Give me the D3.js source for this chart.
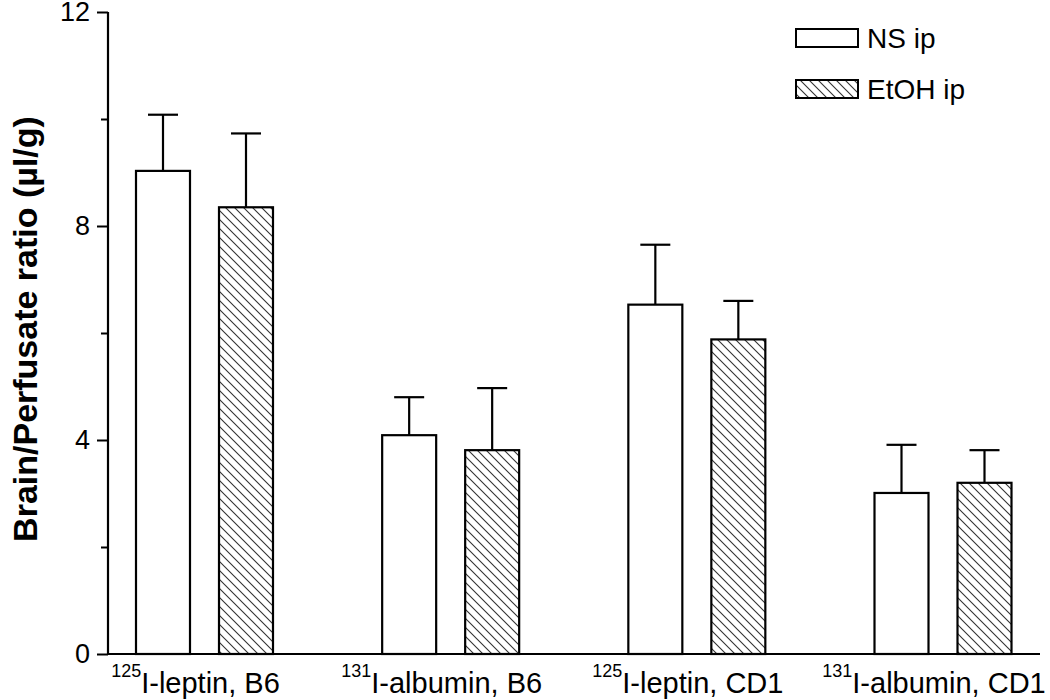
<!DOCTYPE html>
<html><head><meta charset="utf-8">
<script src="https://cdn.jsdelivr.net/npm/d3@7"></script>
<style>body{margin:0;background:#fff}svg{display:block}text{font-family:"Liberation Sans",Arial,sans-serif}</style>
</head><body>
<script>
const categories = ["125|I-leptin, B6", "131|I-albumin, B6", "125|I-leptin, CD1", "131|I-albumin, CD1"];
const seriesNames = ["NS ip", "EtOH ip"];
const nsValues = [9.03, 4.09, 6.53, 3.01];
const nsErrors = [1.05, 0.71, 1.12, 0.9];
const etohValues = [8.35, 3.81, 5.88, 3.2];
const etohErrors = [1.38, 1.16, 0.72, 0.61];
const yTicks = [0, 4, 8, 12];
const yMinorTicks = [2, 6, 10];

const W = 1050, H = 700;
const svg = d3.select("body").append("svg").attr("width", W).attr("height", H);
const defs = svg.append("defs");
const pat = defs.append("pattern").attr("id", "hatch").attr("patternUnits", "userSpaceOnUse")
  .attr("width", 9).attr("height", 9);
pat.append("rect").attr("width", 9).attr("height", 9).attr("fill", "#fff");
pat.append("path").attr("d", "M-1,-1 L10,10 M-10,-1 L1,10 M8,-1 L19,10").attr("stroke", "#333").attr("stroke-width", 1.1);

const axisX0 = 108, axisX1 = 1040;
const y = d3.scaleLinear().domain([0, 12]).range([654, 12]);
const x = d3.scalePoint().domain(categories).range([204.5, 943]);
const barW = 54, gap = 29;
const sub = d3.scaleOrdinal().domain(seriesNames).range([-(gap/2 + barW/2), gap/2 + barW/2]);

const data = [];
categories.forEach((c, i) => {
  data.push({cat: c, s: "NS ip", v: nsValues[i], e: nsErrors[i]});
  data.push({cat: c, s: "EtOH ip", v: etohValues[i], e: etohErrors[i]});
});

// error bars (upward only)
const eb = svg.append("g").attr("stroke", "#000").attr("stroke-width", 2.2);
data.forEach(d => {
  const cx = x(d.cat) + sub(d.s);
  eb.append("line").attr("x1", cx).attr("x2", cx).attr("y1", y(d.v)).attr("y2", y(d.v + d.e));
  eb.append("line").attr("x1", cx - 15).attr("x2", cx + 15).attr("y1", y(d.v + d.e)).attr("y2", y(d.v + d.e));
});

// bars
svg.append("g").selectAll("rect").data(data).join("rect")
  .attr("x", d => x(d.cat) + sub(d.s) - barW/2)
  .attr("y", d => y(d.v))
  .attr("width", barW)
  .attr("height", d => y(0) - y(d.v))
  .attr("fill", d => d.s === "NS ip" ? "#fff" : "url(#hatch)")
  .attr("stroke", "#000").attr("stroke-width", 2.2);

// y axis
const yAxis = svg.append("g").attr("transform", `translate(${axisX0},0)`)
  .call(d3.axisLeft(y).tickValues(yTicks).tickSize(11).tickPadding(7).tickFormat(d3.format("d")));
yAxis.select(".domain").attr("stroke-width", 2.2).attr("d", `M0,${y(12)}V${y(0)}`);
yAxis.selectAll(".tick line").attr("stroke-width", 2);
yAxis.selectAll(".tick text").attr("font-size", 27).attr("fill", "#000")
  .style("font-family", '"Liberation Sans",Arial,sans-serif');
const yMinor = svg.append("g").attr("transform", `translate(${axisX0},0)`)
  .call(d3.axisLeft(y).tickValues(yMinorTicks).tickSize(7).tickFormat(""));
yMinor.select(".domain").remove();
yMinor.selectAll(".tick line").attr("stroke-width", 2);

// x axis
svg.append("line").attr("x1", axisX0 - 1).attr("x2", axisX1).attr("y1", y(0)).attr("y2", y(0))
  .attr("stroke", "#000").attr("stroke-width", 2.2);
const xl = svg.append("g");
categories.forEach(c => {
  const [sup, rest] = c.split("|");
  const t = xl.append("text").attr("x", x(c) - 9).attr("y", 693).attr("text-anchor", "middle")
    .attr("font-size", 29).attr("fill", "#000");
  t.append("tspan").attr("font-size", 18).attr("dy", -16).text(sup);
  t.append("tspan").attr("dy", 16).text(rest);
});

// y title
svg.append("text").attr("transform", "translate(37,329) rotate(-90)").attr("text-anchor", "middle")
  .attr("font-size", 34).attr("font-weight", "bold").attr("fill", "#000")
  .text("Brain/Perfusate ratio (\u00b5l/g)");

// legend
const lg = svg.append("g");
seriesNames.forEach((s, i) => {
  const ly = 29 + i * 51;
  lg.append("rect").attr("x", 796).attr("y", ly).attr("width", 62).attr("height", 18)
    .attr("fill", i === 0 ? "#fff" : "url(#hatch)").attr("stroke", "#000").attr("stroke-width", 2);
  lg.append("text").attr("x", 867).attr("y", ly + 19).attr("font-size", 28).attr("fill", "#000").text(s);
});
</script>
</body></html>
